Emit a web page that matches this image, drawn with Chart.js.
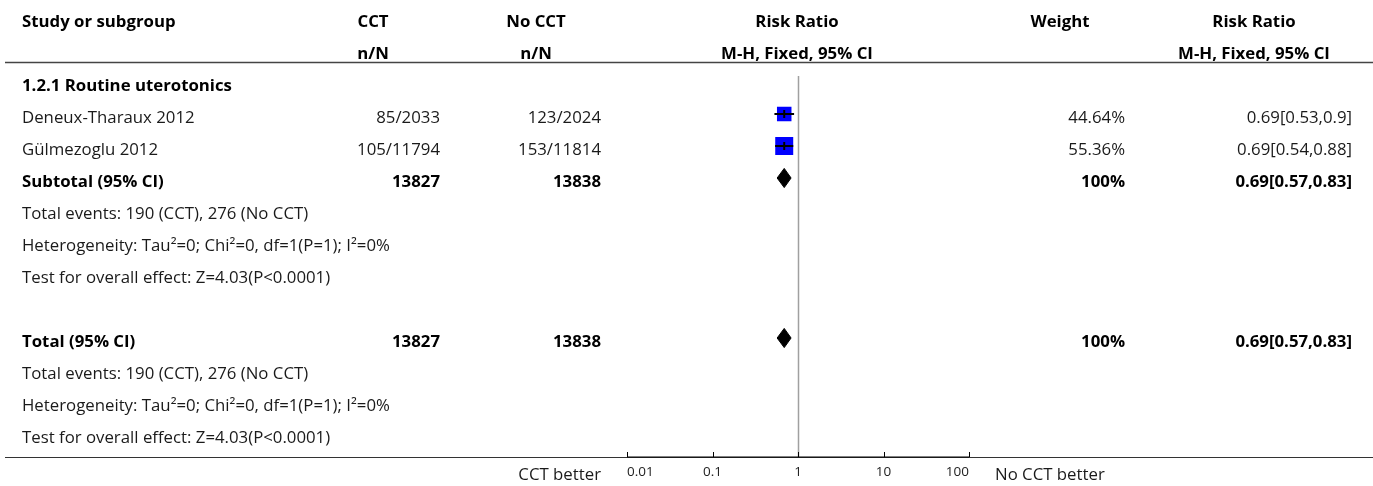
<!DOCTYPE html>
<html>
<head>
<meta charset="utf-8">
<script src="https://cdn.jsdelivr.net/npm/chart.js@4.4.0/dist/chart.umd.min.js"></script>
<style>
  html, body { margin: 0; padding: 0; background: #fff; }
  #wrap { width: 1373px; height: 486px; }
</style>
</head>
<body>
<div id="wrap"><canvas id="forest" width="1373" height="486"></canvas></div>
<script>
// datos del forest plot
const studies = ["Deneux-Tharaux 2012", "Gülmezoglu 2012"];
const cctText = ["85/2033", "105/11794"];
const noCctText = ["123/2024", "153/11814"];
const studyRR = [0.69, 0.69];
const studyLow = [0.53, 0.54];
const studyHigh = [0.9, 0.88];
const studyWeight = [44.64, 55.36];

const pooledRR = 0.69;
const pooledLow = 0.57;
const pooledHigh = 0.83;
const pooledCct = "13827";
const pooledNoCct = "13838";

const subgroupName = "1.2.1 Routine uterotonics";
const summaryLines = [
    "Total events: 190 (CCT), 276 (No CCT)",
    "Heterogeneity: Tau\u00b2=0; Chi\u00b2=0, df=1(P=1); I\u00b2=0%",
    "Test for overall effect: Z=4.03(P<0.0001)"
];
const xTicks = [0.01, 0.1, 1, 10, 100];

// filas (índice de fila en el eje y)
const rowStudy = [3, 4];
const rowSubtotal = 5;
const rowTotal = 10;

// columnas de texto
const col = {
    study: 22,
    cctCenter: 373, cctRight: 440,
    noCenter: 536, noRight: 601,
    plotCenter: 797,
    weightCenter: 1060, weightRight: 1125,
    rrCenter: 1254, rrRight: 1352
};
const FONT = "'Open Sans', 'Noto Sans', sans-serif";
const DIAMOND_H = 0.3;

function fmtCI(est, lo, hi) {
    return est + "[" + lo + "," + hi + "]";
}

// datasets
let datasets = [];

// líneas de IC por estudio
studies.forEach((s, i) => {
    datasets.push({
        data: [{ x: studyLow[i], y: rowStudy[i] }, { x: studyHigh[i], y: rowStudy[i] }],
        showLine: true, borderColor: "#000", borderWidth: 2, pointRadius: 0, order: 1
    });
});

// marca vertical en la estimación
datasets.push({
    data: studies.map((s, i) => ({ x: studyRR[i], y: rowStudy[i] })),
    pointStyle: "line", rotation: 90, pointRadius: 4,
    borderColor: "#000", borderWidth: 2, order: 0
});

// cuadrados (tamaño según peso)
datasets.push({
    data: studies.map((s, i) => ({ x: studyRR[i], y: rowStudy[i] })),
    pointStyle: "rect",
    pointRadius: studyWeight.map(w => w * 0.325 / Math.SQRT2),
    backgroundColor: "#0000ff", borderWidth: 0, order: 2
});

// diamantes
[rowSubtotal, rowTotal].forEach(r => {
    datasets.push({
        data: [
            { x: pooledLow, y: r },
            { x: pooledRR, y: r - DIAMOND_H },
            { x: pooledHigh, y: r },
            { x: pooledRR, y: r + DIAMOND_H },
            { x: pooledLow, y: r }
        ],
        showLine: true, fill: "shape", tension: 0,
        borderColor: "#000", backgroundColor: "#000", borderWidth: 1, pointRadius: 0, order: 0
    });
});

// plugin para la tabla de texto y las líneas
const tablaPlugin = {
    id: "tabla",
    beforeDatasetsDraw(chart) {
        const c = chart.ctx;
        const xs = chart.scales.x;
        const x1 = Math.round(xs.getPixelForValue(1)) + 0.5;
        c.save();
        c.strokeStyle = "#a0a0a0";
        c.lineWidth = 1.5;
        c.beginPath();
        c.moveTo(x1, 76);
        c.lineTo(x1, chart.chartArea.bottom);
        c.stroke();
        c.restore();
    },
    afterDraw(chart) {
        const c = chart.ctx;
        const xs = chart.scales.x;
        const ys = chart.scales.y;
        const W = chart.width;
        const rowY = r => ys.getPixelForValue(r) + 4;

        function txt(s, x, r, align, bold, y) {
            c.font = (bold ? "bold " : "") + "16.8px " + FONT;
            c.fillStyle = bold ? "#000" : "#1a1a1a";
            c.textAlign = align;
            c.textBaseline = "middle";
            c.fillText(s, x, y !== undefined ? y : rowY(r));
        }

        c.save();
        // cabecera
        txt("Study or subgroup", col.study, 0, "left", true);
        txt("CCT", col.cctCenter, 0, "center", true);
        txt("No CCT", col.noCenter, 0, "center", true);
        txt("Risk Ratio", col.plotCenter, 0, "center", true);
        txt("Weight", col.weightCenter, 0, "center", true);
        txt("Risk Ratio", col.rrCenter, 0, "center", true);
        txt("n/N", col.cctCenter, 1, "center", true);
        txt("n/N", col.noCenter, 1, "center", true);
        txt("M-H, Fixed, 95% CI", col.plotCenter, 1, "center", true);
        txt("M-H, Fixed, 95% CI", col.rrCenter, 1, "center", true);

        // línea de cabecera
        c.strokeStyle = "#444";
        c.lineWidth = 1.5;
        c.beginPath();
        c.moveTo(5, 62.5);
        c.lineTo(W, 62.5);
        c.stroke();

        txt(subgroupName, col.study, 2, "left", true);

        studies.forEach((s, i) => {
            const r = rowStudy[i];
            txt(s, col.study, r, "left", false);
            txt(cctText[i], col.cctRight, r, "right", false);
            txt(noCctText[i], col.noRight, r, "right", false);
            txt(studyWeight[i].toFixed(2) + "%", col.weightRight, r, "right", false);
            txt(fmtCI(studyRR[i], studyLow[i], studyHigh[i]), col.rrRight, r, "right", false);
        });

        [[rowSubtotal, "Subtotal (95% CI)"], [rowTotal, "Total (95% CI)"]].forEach(([r, label]) => {
            txt(label, col.study, r, "left", true);
            txt(pooledCct, col.cctRight, r, "right", true);
            txt(pooledNoCct, col.noRight, r, "right", true);
            txt("100%", col.weightRight, r, "right", true);
            txt(fmtCI(pooledRR, pooledLow, pooledHigh), col.rrRight, r, "right", true);
            summaryLines.forEach((l, j) => txt(l, col.study, r + 1 + j, "left", false));
        });

        // eje inferior
        const yb = chart.chartArea.bottom;
        c.strokeStyle = "#333";
        c.lineWidth = 1;
        c.beginPath();
        c.moveTo(5, yb + 0.5);
        c.lineTo(W, yb + 0.5);
        c.stroke();
        c.strokeStyle = "#000";
        c.lineWidth = 2;
        c.beginPath();
        c.moveTo(xs.left, yb);
        c.lineTo(xs.right, yb);
        xTicks.forEach(v => {
            const px = Math.round(xs.getPixelForValue(v)) + 0.5;
            c.moveTo(px, yb - 5);
            c.lineTo(px, yb);
        });
        c.lineWidth = 1;
        c.stroke();

        txt("CCT better", col.noRight, 0, "right", false, 475);
        txt("No CCT better", 995, 0, "left", false, 475);
        c.restore();
    }
};

new Chart(document.getElementById("forest").getContext("2d"), {
    type: "scatter",
    data: { datasets: datasets },
    options: {
        responsive: false,
        animation: false,
        layout: { padding: { left: 627, right: 404, top: 18, bottom: 0 } },
        plugins: { legend: { display: false }, tooltip: { enabled: false } },
        scales: {
            x: {
                type: "logarithmic",
                min: 0.01,
                max: 100,
                afterBuildTicks: s => { s.ticks = xTicks.map(v => ({ value: v })); },
                afterFit: s => { s.height = 29; },
                grid: { display: false, drawTicks: false },
                border: { display: false },
                ticks: {
                    callback: v => String(v),
                    font: { family: FONT, size: 13.5 },
                    color: "#222",
                    padding: 7,
                    align: "inner",
                    maxRotation: 0,
                    autoSkip: false
                }
            },
            y: {
                type: "linear",
                reverse: true,
                min: 0,
                max: 13.71875,
                display: false
            }
        }
    },
    plugins: [tablaPlugin]
});
</script>
</body>
</html>
